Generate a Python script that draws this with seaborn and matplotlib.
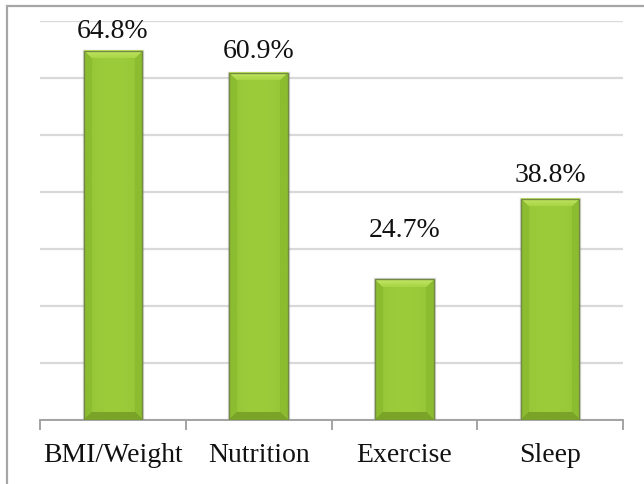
import numpy as np
import matplotlib
matplotlib.use("Agg")
import matplotlib.pyplot as plt
from matplotlib.patches import Rectangle
import seaborn as sns

categories = ["BMI/Weight", "Nutrition", "Exercise", "Sleep"]
values = [64.8, 60.9, 24.7, 38.8]
labels = ["64.8%", "60.9%", "24.7%", "38.8%"]
# distance (px) between the top of each bar and its value label baseline
label_gap_px = [14, 16, 43, 18]

sns.set_theme(style="white")
plt.rcParams["font.family"] = ["Liberation Serif", "DejaVu Serif"]

W, H = 644, 485
fig = plt.figure(figsize=(W / 100, H / 100), dpi=100)
ax = fig.add_axes([40 / W, 64 / H, 583 / W, 399 / H])

body = "#9CCB3B"
sns.barplot(x=categories, y=values, color=body, width=0.4, ax=ax,
            saturation=1, linewidth=0)

ax.set_xlim(-0.5, 3.5)
ax.set_ylim(0, 70)
ax.set_yticks(np.arange(0, 71, 10))
ax.set_yticklabels([])
ax.yaxis.grid(True, color="#d9d9d9", lw=1.6)
ax.set_axisbelow(True)
for s in ["top", "right", "left"]:
    ax.spines[s].set_visible(False)
ax.spines["bottom"].set_color("#a3a3a3")
ax.spines["bottom"].set_linewidth(1.4)
ax.set_xticks([-0.5, 0.5, 1.5, 2.5, 3.5], minor=True)
ax.tick_params(axis="x", which="major", length=0, labelsize=20, pad=15.5,
               labelcolor="#111111")
ax.tick_params(axis="x", which="minor", length=7, width=1.4,
               color="#a3a3a3", direction="out", bottom=True)
ax.tick_params(axis="y", length=0)
ax.set_xlabel("")
ax.set_ylabel("")


def bevel_image(wpx, hpx, b=8):
    base = np.array([156, 204, 58]) / 255
    top_hi = np.array([196, 230, 100]) / 255
    top_lo = np.array([168, 214, 70]) / 255
    side = np.array([140, 188, 48]) / 255
    bottom = np.array([122, 164, 40]) / 255
    img = np.tile(base, (hpx, wpx, 1))
    # gentle horizontal shading across the face
    xs = np.linspace(-1, 1, wpx)
    shade = 1.0 - 0.05 * xs ** 2
    img *= shade[None, :, None]
    r = np.arange(hpx)[:, None]
    c = np.arange(wpx)[None, :]
    left = (c < b) & (r >= c) & (r < hpx - 1 - c)
    right = (c >= wpx - b) & (r >= wpx - 1 - c) & (r < hpx - (wpx - c))
    topm = (r < b) & (c >= r) & (c < wpx - r)
    botm = (r >= hpx - b) & (c >= hpx - 1 - r) & (c < wpx - (hpx - 1 - r))
    img[left | right] = side
    t = (np.arange(hpx)[:, None] / max(b - 1, 1)).clip(0, 1)
    top_rows = top_hi[None, None, :] * (1 - t[..., None]) + top_lo[None, None, :] * t[..., None]
    top_full = np.broadcast_to(top_rows, (hpx, wpx, 3))
    img[topm] = top_full[topm]
    img[botm] = bottom
    return np.clip(img, 0, 1)


bars = list(ax.patches)
for p in bars:
    x0, w, h = p.get_x(), p.get_width(), p.get_height()
    (px0, py0) = ax.transData.transform((x0, 0))
    (px1, py1) = ax.transData.transform((x0 + w, h))
    wpx, hpx = int(round(px1 - px0)), int(round(py1 - py0))
    # soft shadow around the bar
    ax.add_patch(Rectangle((x0, 0), w, h, transform=ax.transData,
                           facecolor="none", edgecolor="#8a8a8a", lw=2.4,
                           alpha=0.35, zorder=2.5))
    ax.imshow(bevel_image(wpx, hpx), extent=(x0, x0 + w, 0, h),
              origin="upper", aspect="auto", interpolation="bilinear",
              zorder=3)
    ax.add_patch(Rectangle((x0, 0), w, h, facecolor="none",
                           edgecolor="#738a45", lw=1.0, zorder=3.1))

ax.set_xlim(-0.5, 3.5)
ax.set_ylim(0, 70)

for i, (v, lab, gap) in enumerate(zip(values, labels, label_gap_px)):
    ax.annotate(lab, xy=(i, v), xytext=(0, gap * 0.72),
                textcoords="offset points", ha="center", va="baseline",
                fontsize=20, color="#111111")

# chart-area frame
fig.patches.append(Rectangle((7 / W, -0.05), 1.2, (H - 7) / H + 0.05,
                             transform=fig.transFigure, fill=False,
                             edgecolor="#a6a6a6", lw=1.6))

fig.savefig("out.png", dpi=100)
